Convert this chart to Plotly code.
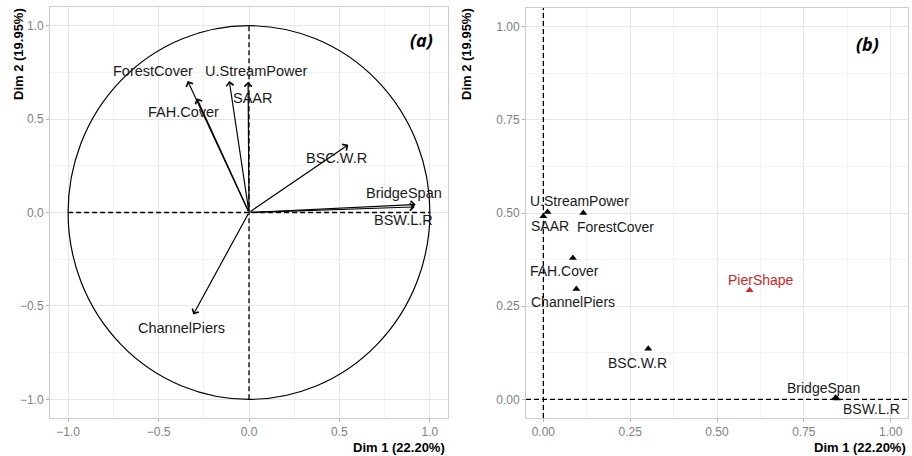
import plotly.graph_objects as go

# ---------------- data ----------------
# Panel (a): variable coordinates on Dim 1 / Dim 2 (correlation circle)
var_names_a = ["ForestCover", "FAH.Cover", "U.StreamPower", "SAAR",
               "BSC.W.R", "BridgeSpan", "BSW.L.R", "ChannelPiers"]
dim1_a = [-0.339, -0.289, -0.109, -0.005, 0.549, 0.921, 0.916, -0.308]
dim2_a = [0.704, 0.612, 0.704, 0.700, 0.363, 0.043, 0.030, -0.546]

# Panel (b): squared cosines on Dim 1 / Dim 2
var_names_b = ["U.StreamPower", "SAAR", "ForestCover", "FAH.Cover",
               "ChannelPiers", "PierShape", "BSC.W.R", "BridgeSpan", "BSW.L.R"]
dim1_b = [0.012, 0.000, 0.115, 0.085, 0.095, 0.594, 0.302, 0.841, 0.845]
dim2_b = [0.503, 0.491, 0.500, 0.379, 0.296, 0.293, 0.136, 0.004, 0.002]
supplementary_b = ["PierShape"]

ticks_a = [-1.0, -0.5, 0.0, 0.5, 1.0]
minor_a = [-0.75, -0.25, 0.25, 0.75]
ticks_b = [0.0, 0.25, 0.5, 0.75, 1.0]
minor_b = [0.125, 0.375, 0.625, 0.875]

x_title = "Dim 1 (22.20%)"
y_title = "Dim 2 (19.95%)"

# ---------------- layout helpers (pixel offsets for labels) ----------------
label_off_a = {
    "ForestCover": (-35, 10), "FAH.Cover": (-13, -14), "U.StreamPower": (27, 10),
    "SAAR": (5, -16), "BSC.W.R": (-12, -13), "BridgeSpan": (-12, 11),
    "BSW.L.R": (-11, -13), "ChannelPiers": (-12, -13),
}
label_off_b = {
    "U.StreamPower": (32, 11), "SAAR": (7, -10), "ForestCover": (32, -14),
    "FAH.Cover": (-8, -13), "ChannelPiers": (-3, -13), "PierShape": (11, 10),
    "BSC.W.R": (-11, -14), "BridgeSpan": (-12, 10), "BSW.L.R": (35, -10),
}

W, H = 912, 456
FONT = "Liberation Sans, Arial, sans-serif"
RED = "#CC2929"
DASH = "5px,3px"

def px_x(p):
    return p / W

def px_y(p):
    return 1 - p / H

fig = go.Figure()

# invisible trace to activate panel (a) axes
fig.add_trace(go.Scatter(x=[0], y=[0], mode="markers", marker=dict(opacity=0),
                         xaxis="x", yaxis="y", showlegend=False, hoverinfo="skip"))

# panel (b) points
colors_b = [RED if n in supplementary_b else "black" for n in var_names_b]
fig.add_trace(go.Scatter(x=dim1_b, y=dim2_b, mode="markers",
                         marker=dict(symbol="triangle-up", size=7, color=colors_b),
                         xaxis="x2", yaxis="y2", showlegend=False))

annotations = []
shapes = []

# circle and dashed axes for (a)
shapes.append(dict(type="circle", xref="x", yref="y", x0=-1, y0=-1, x1=1, y1=1,
                   line=dict(color="black", width=1.2)))
shapes.append(dict(type="line", xref="x", yref="y", x0=-1, x1=1, y0=0, y1=0,
                   line=dict(color="black", width=1.3, dash=DASH)))
shapes.append(dict(type="line", xref="x", yref="y", x0=0, x1=0, y0=-1, y1=1,
                   line=dict(color="black", width=1.3, dash=DASH)))
# dashed axes for (b)
shapes.append(dict(type="line", xref="x2 domain", yref="y2", x0=0, x1=1, y0=0, y1=0,
                   line=dict(color="black", width=1.3, dash=DASH)))
shapes.append(dict(type="line", xref="x2", yref="y2 domain", x0=0, x1=0, y0=0, y1=1,
                   line=dict(color="black", width=1.3, dash=DASH)))
# white boxes behind panel tags
shapes.append(dict(type="rect", xref="paper", yref="paper", x0=px_x(398), x1=px_x(447.5),
                   y0=px_y(40), y1=px_y(7.5), fillcolor="white", line=dict(width=0),
                   layer="between"))
shapes.append(dict(type="rect", xref="paper", yref="paper", x0=px_x(849), x1=px_x(907.5),
                   y0=px_y(47), y1=px_y(8.5), fillcolor="white", line=dict(width=0),
                   layer="between"))

# arrows for (a)
for n, x, y in zip(var_names_a, dim1_a, dim2_a):
    annotations.append(dict(x=x, y=y, ax=0, ay=0, xref="x", yref="y", axref="x", ayref="y",
                            text="", showarrow=True, arrowhead=4, arrowsize=1.2,
                            arrowwidth=1.2, arrowcolor="black", standoff=0, startstandoff=0))
for n, x, y in zip(var_names_a, dim1_a, dim2_a):
    dx, dy = label_off_a[n]
    annotations.append(dict(x=x, y=y, xref="x", yref="y", text=n, showarrow=False,
                            xshift=dx, yshift=dy,
                            font=dict(family=FONT, size=14.5, color="#1a1a1a")))
# labels for (b)
for n, x, y, c in zip(var_names_b, dim1_b, dim2_b, colors_b):
    dx, dy = label_off_b[n]
    annotations.append(dict(x=x, y=y, xref="x2", yref="y2", text=n, showarrow=False,
                            xshift=dx, yshift=dy,
                            font=dict(family=FONT, size=14, color=c if c != "black" else "#1a1a1a")))

# panel tags
annotations.append(dict(x=px_x(421), y=px_y(26), xref="paper", yref="paper", text="<b><i>(a)</i></b>",
                        showarrow=False, font=dict(family="Open Sans, sans-serif", size=18, color="black")))
annotations.append(dict(x=px_x(881), y=px_y(30), xref="paper", yref="paper", text="<b><i>(b)</i></b>",
                        showarrow=False, font=dict(family="Open Sans, sans-serif", size=18, color="black")))

# axis titles
for xr, xc in [(447, 18), (908, 466)]:
    annotations.append(dict(x=px_x(xr), y=px_y(447), xref="paper", yref="paper", text=f"<b>{x_title}</b>",
                            showarrow=False, xanchor="right", yanchor="middle",
                            font=dict(family=FONT, size=13, color="black")))
    annotations.append(dict(x=px_x(xc), y=px_y(54), xref="paper", yref="paper", text=f"<b>{y_title}</b>",
                            showarrow=False, textangle=-90, xanchor="center", yanchor="middle",
                            font=dict(family=FONT, size=13, color="black")))

axis_common = dict(showgrid=True, gridcolor="#e6e6e6", gridwidth=1, zeroline=False,
                   showline=True, mirror=True, linecolor="#cccccc", linewidth=1,
                   ticks="outside", ticklen=3, tickcolor="#b3b3b3",
                   tickfont=dict(family=FONT, size=12, color="#808080"))

fig.update_layout(
    width=W, height=H, margin=dict(l=0, r=0, t=0, b=0),
    paper_bgcolor="white", plot_bgcolor="white",
    xaxis=dict(domain=[px_x(50), px_x(448)], range=[-1.1, 1.1], tickvals=ticks_a,
               tickformat=".1f", anchor="y",
               minor=dict(tickvals=minor_a, showgrid=True, gridcolor="#f2f2f2", ticks=""),
               **axis_common),
    yaxis=dict(domain=[px_y(418), px_y(7)], range=[-1.1, 1.1], tickvals=ticks_a,
               tickformat=".1f", anchor="x",
               minor=dict(tickvals=minor_a, showgrid=True, gridcolor="#f2f2f2", ticks=""),
               **axis_common),
    xaxis2=dict(domain=[px_x(526), px_x(908)], range=[-0.05, 1.05], tickvals=ticks_b,
                tickformat=".2f", anchor="y2",
                minor=dict(tickvals=minor_b, showgrid=True, gridcolor="#f2f2f2", ticks=""),
                **axis_common),
    yaxis2=dict(domain=[px_y(418), px_y(8)], range=[-0.05, 1.05], tickvals=ticks_b,
                tickformat=".2f", anchor="x2",
                minor=dict(tickvals=minor_b, showgrid=True, gridcolor="#f2f2f2", ticks=""),
                **axis_common),
    annotations=annotations,
    shapes=shapes,
)

fig.write_html("out.html", config={"displayModeBar": False},
               post_script="document.body.style.margin='0';document.body.style.overflow='hidden';")
